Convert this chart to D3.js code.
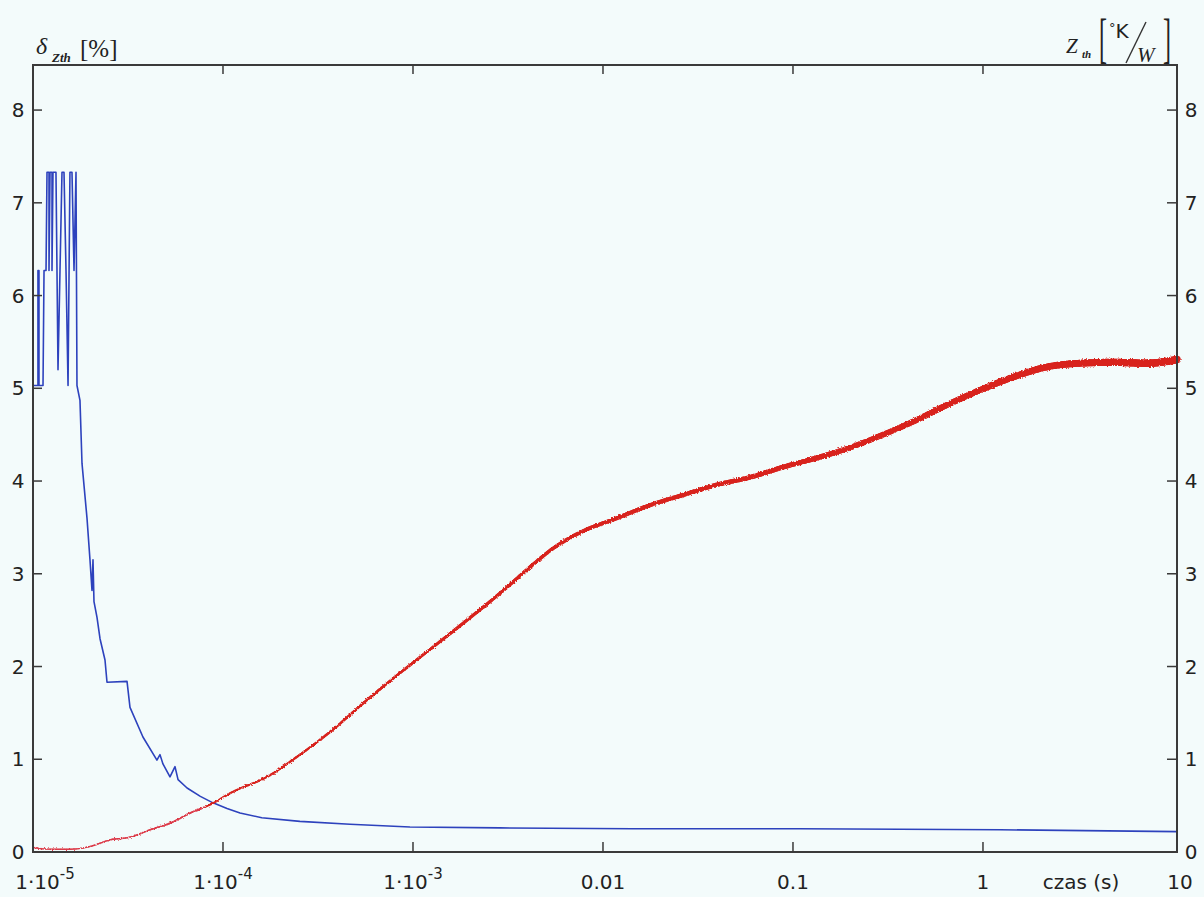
<!DOCTYPE html>
<html>
<head>
<meta charset="utf-8">
<script src="https://cdn.jsdelivr.net/npm/d3@7"></script>
<style>
  html, body { margin: 0; padding: 0; background: #f3fbfb; }
  svg { display: block; }
</style>
</head>
<body>
<div id="chart"></div>
<script>
// czas (s) / delta Zth [%]  -- blue curve
const deltaTime = [
  1.0e-5, 1.062e-5, 1.062e-5, 1.075e-5, 1.075e-5, 1.129e-5, 1.143e-5, 1.171e-5,
  1.185e-5, 1.214e-5, 1.214e-5, 1.229e-5, 1.259e-5, 1.259e-5, 1.274e-5, 1.321e-5,
  1.354e-5, 1.387e-5, 1.421e-5, 1.456e-5, 1.492e-5, 1.529e-5, 1.565e-5, 1.604e-5,
  1.644e-5, 1.684e-5, 1.704e-5, 1.767e-5, 1.811e-5, 1.924e-5, 1.995e-5, 2.044e-5,
  2.069e-5, 2.094e-5, 2.172e-5, 2.253e-5, 2.393e-5, 2.452e-5, 3.125e-5, 3.24e-5,
  3.79e-5, 4.49e-5, 4.66e-5, 4.83e-5, 5.26e-5, 5.59e-5, 5.80e-5, 6.47e-5,
  7.6e-5, 8.86e-5, 1.05e-4, 1.229e-4, 1.6e-4, 2.54e-4, 4.66e-4, 9.64e-4,
  2.87e-3, 1.439e-2, 0.1089, 1.229, 10.5
];
const deltaZth = [
  5.03, 5.03, 6.27, 6.27, 5.03, 5.03, 6.27, 6.27,
  7.33, 7.33, 6.27, 7.33, 7.33, 6.27, 7.33, 7.33,
  5.20, 6.27, 7.33, 7.33, 6.27, 5.03, 7.33, 7.33,
  6.27, 7.33, 5.03, 4.87, 4.19, 3.60, 3.15, 2.82,
  3.15, 2.70, 2.53, 2.30, 2.07, 1.83, 1.84, 1.56,
  1.24, 0.99, 1.05, 0.95, 0.81, 0.92, 0.78, 0.69,
  0.60, 0.53, 0.47, 0.42, 0.37, 0.33, 0.30, 0.27,
  0.26, 0.25, 0.25, 0.24, 0.22
];

// czas (s) / Zth [K/W]  -- red curve
const zthTime = [
  1.0e-5, 1.23e-5, 1.57e-5, 2.0e-5, 2.54e-5, 3.24e-5, 4.13e-5, 5.26e-5,
  6.71e-5, 8.54e-5, 1.129e-4, 1.704e-4, 2.543e-4, 3.79e-4, 5.73e-4, 8.54e-4,
  1.275e-3, 1.924e-3, 2.87e-3, 4.28e-3, 5.26e-3, 6.47e-3, 7.85e-3, 1.185e-2,
  1.768e-2, 2.64e-2, 3.98e-2, 5.94e-2, 8.86e-2, 0.1338, 0.1995, 0.2977,
  0.428, 0.646, 0.964, 1.439, 2.172, 3.24, 4.83, 7.30, 10.5
];
const zth = [
  0.05, 0.03, 0.03, 0.06, 0.13, 0.16, 0.24, 0.31,
  0.42, 0.51, 0.65, 0.81, 1.05, 1.32, 1.64, 1.93,
  2.21, 2.50, 2.79, 3.10, 3.25, 3.37, 3.46, 3.60,
  3.74, 3.85, 3.96, 4.04, 4.15, 4.25, 4.36, 4.50,
  4.64, 4.82, 4.98, 5.12, 5.23, 5.27, 5.28, 5.27, 5.31
];

const xTicks = [1e-5, 1e-4, 1e-3, 0.01, 0.1, 1, 10];
const xTickLabels = [["1·10", "-5"], ["1·10", "-4"], ["1·10", "-3"], ["0.01"], ["0.1"], ["1"], ["10"]];
const yTicks = [0, 1, 2, 3, 4, 5, 6, 7, 8];

const W = 1204, H = 897;
const mLeft = 33, mRight = 1177, mTop = 65, mBottom = 852;

const svg = d3.select("#chart").append("svg")
  .attr("width", W).attr("height", H)
  .attr("font-family", "'DejaVu Sans', Verdana, sans-serif");

svg.append("rect").attr("width", W).attr("height", H).attr("fill", "#f3fbfb");

const x = d3.scaleLog().domain([1e-5, 10.5]).range([mLeft, mRight]);
const y = d3.scaleLinear().domain([0, 8.486]).range([mBottom, mTop]);

// rough edge for the noisy red trace
const defs = svg.append("defs");
const f = defs.append("filter").attr("id", "rough")
  .attr("x", "-5%").attr("y", "-5%").attr("width", "110%").attr("height", "110%");
f.append("feTurbulence").attr("type", "fractalNoise").attr("baseFrequency", 0.7)
  .attr("numOctaves", 2).attr("seed", 3).attr("result", "n");
f.append("feDisplacementMap").attr("in", "SourceGraphic").attr("in2", "n")
  .attr("scale", 3).attr("xChannelSelector", "R").attr("yChannelSelector", "G");

const plot = svg.append("g");
const line = d3.line().x(d => x(d[0])).y(d => y(d[1]));

// blue: delta Zth
const blueData = deltaTime.map((t, i) => [t, deltaZth[i]]);
plot.append("path")
  .datum(blueData)
  .attr("fill", "none")
  .attr("stroke", "#2d42bd")
  .attr("stroke-width", 1.6)
  .attr("stroke-linejoin", "round")
  .attr("d", line);

// red: Zth. Smooth path, then re-drawn in short pieces so the trace thickens to the right
const redData = zthTime.map((t, i) => [t, zth[i]]);
const guide = plot.append("path")
  .datum(redData)
  .attr("fill", "none").attr("stroke", "none")
  .attr("d", d3.line().x(d => x(d[0])).y(d => y(d[1])).curve(d3.curveMonotoneX));
const node = guide.node();
const total = node.getTotalLength();
const pts = [];
for (let s = 0; s <= total; s += 2) pts.push(node.getPointAtLength(s));
pts.push(node.getPointAtLength(total));

const redG = plot.append("g").attr("filter", "url(#rough)");
for (let i = 0; i < pts.length - 1; i++) {
  const frac = (pts[i].x - mLeft) / (mRight - mLeft);
  const w = 1.3 + 6.3 * Math.pow(frac, 1.3);
  redG.append("line")
    .attr("x1", pts[i].x).attr("y1", pts[i].y)
    .attr("x2", pts[i + 1].x).attr("y2", pts[i + 1].y)
    .attr("stroke", frac < 0.15 ? "#dc3a48" : "#d8221e")
    .attr("stroke-width", w)
    .attr("stroke-linecap", "round");
}

// frame
svg.append("rect")
  .attr("x", mLeft).attr("y", mTop)
  .attr("width", mRight - mLeft).attr("height", mBottom - mTop)
  .attr("fill", "none").attr("stroke", "#3a3a3a").attr("stroke-width", 2);

// x ticks, bottom and top, inward
const innerX = xTicks.slice(1, -1);
svg.append("g").selectAll("line").data(innerX).join("line")
  .attr("x1", d => x(d)).attr("x2", d => x(d))
  .attr("y1", mBottom).attr("y2", mBottom - 10)
  .attr("stroke", "#3a3a3a").attr("stroke-width", 1.5);
svg.append("g").selectAll("line").data(innerX).join("line")
  .attr("x1", d => x(d)).attr("x2", d => x(d))
  .attr("y1", mTop).attr("y2", mTop + 9)
  .attr("stroke", "#3a3a3a").attr("stroke-width", 1.5);

// y ticks, left and right, inward
const innerY = yTicks.slice(1);
svg.append("g").selectAll("line").data(innerY).join("line")
  .attr("x1", mLeft).attr("x2", mLeft + 9)
  .attr("y1", d => y(d)).attr("y2", d => y(d))
  .attr("stroke", "#3a3a3a").attr("stroke-width", 1.5);
svg.append("g").selectAll("line").data(innerY).join("line")
  .attr("x1", mRight - 10).attr("x2", mRight)
  .attr("y1", d => y(d)).attr("y2", d => y(d))
  .attr("stroke", "#3a3a3a").attr("stroke-width", 1.5);

// y labels
svg.append("g").selectAll("text").data(yTicks).join("text")
  .attr("x", 18).attr("y", d => y(d) + 7)
  .attr("text-anchor", "middle").attr("font-size", 20).attr("fill", "#222")
  .text(d => d);
svg.append("g").selectAll("text").data(yTicks).join("text")
  .attr("x", 1191).attr("y", d => y(d) + 7)
  .attr("text-anchor", "middle").attr("font-size", 20).attr("fill", "#222")
  .text(d => d);

// x labels
const xl = svg.append("g").attr("font-size", 20).attr("fill", "#222");
xTicks.forEach((t, i) => {
  const lab = xTickLabels[i];
  let px = x(t);
  if (i === 0) px = 45;
  if (i === xTicks.length - 1) px = 1180;
  const tx = xl.append("text").attr("x", px).attr("y", 889).attr("text-anchor", "middle");
  tx.append("tspan").text(lab[0]);
  if (lab[1]) {
    tx.append("tspan").attr("dy", -10).attr("font-size", 15).text(lab[1]);
  }
});
xl.append("text").attr("x", 1081).attr("y", 889).attr("text-anchor", "middle").text("czas (s)");

// left axis title: δZth [%]
const lt = svg.append("g").attr("fill", "#222");
lt.append("text").attr("x", 36).attr("y", 54)
  .attr("font-family", "'Liberation Serif', serif").attr("font-style", "italic")
  .attr("font-size", 24).text("δ");
lt.append("text").attr("x", 52).attr("y", 62)
  .attr("font-family", "'Liberation Serif', serif").attr("font-style", "italic")
  .attr("font-weight", "bold").attr("font-size", 13).text("Zth");
lt.append("text").attr("x", 80).attr("y", 57)
  .attr("font-family", "'Liberation Serif', serif")
  .attr("font-size", 25).text("[%]");

// right axis title: Zth [°K/W]
const rt = svg.append("g").attr("fill", "#222");
rt.append("text").attr("x", 1066).attr("y", 53)
  .attr("font-family", "'Liberation Serif', serif").attr("font-style", "italic")
  .attr("font-size", 21).text("Z");
rt.append("text").attr("x", 1082).attr("y", 58)
  .attr("font-family", "'Liberation Serif', serif").attr("font-style", "italic")
  .attr("font-weight", "bold").attr("font-size", 11).text("th");
rt.append("text").attr("transform", "translate(1099,57) scale(0.8,1.85)")
  .attr("font-family", "'Liberation Serif', serif")
  .attr("font-size", 30).text("[");
const kw = rt.append("text").attr("x", 1109).attr("y", 38).attr("font-size", 20);
kw.append("tspan").attr("font-size", 13).attr("dy", -6).text("°");
kw.append("tspan").attr("dy", 6).text("K");
rt.append("line").attr("x1", 1126).attr("y1", 63).attr("x2", 1146).attr("y2", 22)
  .attr("stroke", "#333").attr("stroke-width", 1.4);
rt.append("text").attr("x", 1137).attr("y", 62)
  .attr("font-family", "'Liberation Serif', serif").attr("font-style", "italic")
  .attr("font-size", 21).text("W");
rt.append("text").attr("transform", "translate(1163,57) scale(0.8,1.85)")
  .attr("font-family", "'Liberation Serif', serif")
  .attr("font-size", 30).text("]");
</script>
</body>
</html>
